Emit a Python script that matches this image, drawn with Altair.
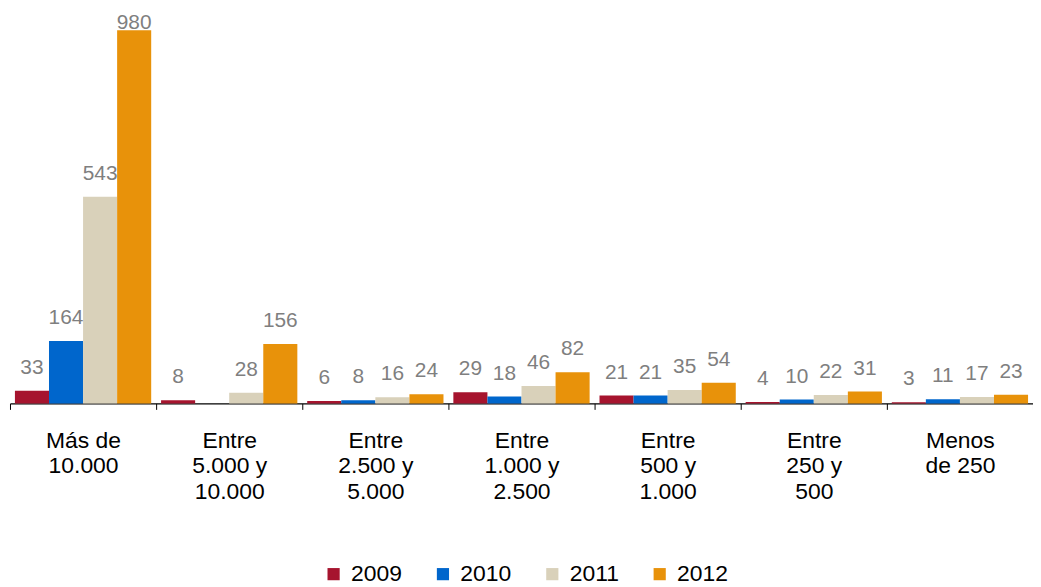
import altair as alt
import pandas as pd

categories = ["Más de|10.000", "Entre|5.000 y|10.000", "Entre|2.500 y|5.000",
              "Entre|1.000 y|2.500", "Entre|500 y|1.000", "Entre|250 y|500", "Menos|de 250"]
years = ["2009", "2010", "2011", "2012"]
v2009 = [33, 8, 6, 29, 21, 4, 3]
v2010 = [164, None, 8, 18, 21, 10, 11]
v2011 = [543, 28, 16, 46, 35, 22, 17]
v2012 = [980, 156, 24, 82, 54, 31, 23]
colors = ["#A6142E", "#0066CC", "#D9D1BA", "#E8920A"]

rows = []
for yr, vals in zip(years, [v2009, v2010, v2011, v2012]):
    for c, v in zip(categories, vals):
        if v is not None:
            rows.append({"cat": c, "year": yr, "value": v})
df = pd.DataFrame(rows)

FONT = "Liberation Sans"

x = alt.X("cat:N", sort=categories, title=None,
          scale=alt.Scale(paddingInner=0, paddingOuter=0),
          axis=alt.Axis(labelExpr="split(datum.label, '|')", labelAngle=0,
                        labelFontSize=23, labelLineHeight=26, labelColor="#000000",
                        labelFont=FONT, labelPadding=20, labelBaseline="top",
                        tickBand="extent", tickSize=6, tickColor="#000000",
                        domainColor="#000000", domainWidth=1.2, grid=False))
xo = alt.XOffset("year:N", sort=years, scale=alt.Scale(paddingOuter=0.145, paddingInner=0))
yscale = alt.Scale(domain=[0, 1000], nice=False)

bars = alt.Chart(df).mark_bar().encode(
    x=x, xOffset=xo, y=alt.Y("value:Q", scale=yscale, axis=None),
    color=alt.Color("year:N", sort=years,
                    scale=alt.Scale(domain=years, range=colors),
                    legend=alt.Legend(title=None, orient="none", direction="horizontal",
                                      legendX=314, legendY=543, symbolType="square",
                                      symbolSize=150, symbolStrokeWidth=0,
                                      labelFontSize=23, labelFont=FONT, labelColor="#000000",
                                      labelOffset=6, columnPadding=29))
)

labels = alt.Chart(df).transform_calculate(
    ly="min(datum.value + 60, 1000)"
).mark_text(baseline="middle", fontSize=21, font=FONT, color="#7F7F7F").encode(
    x=x, xOffset=xo, y=alt.Y("ly:Q", scale=yscale, axis=None), text="value:Q"
)

chart = (bars + labels).properties(
    width=1029, height=383,
    background="white",
    autosize=alt.AutoSizeParams(type="none"),
    padding={"left": 2, "top": 13, "right": 0, "bottom": 190}
).configure_view(strokeWidth=0, stroke="transparent")

chart.save("out.html", embed_options={"renderer": "svg", "actions": False})
